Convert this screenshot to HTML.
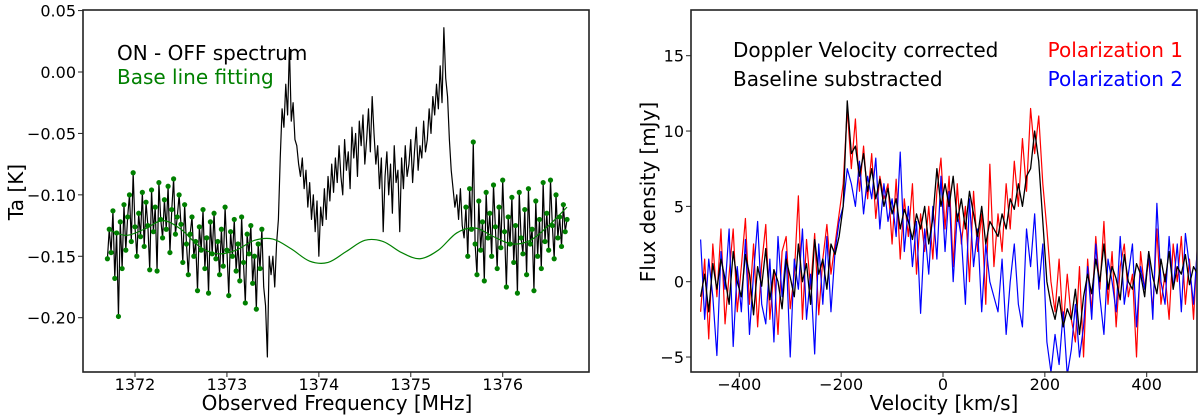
<!DOCTYPE html>
<html><head><meta charset="utf-8"><style>
html,body{margin:0;padding:0;background:#fff;}
svg{display:block;font-family:"DejaVu Sans","Liberation Sans",sans-serif;}
</style></head><body>
<svg id="fig" width="1200" height="420" viewBox="0 0 1200 420" xmlns="http://www.w3.org/2000/svg">
<defs>
<clipPath id="clipL"><rect x="83" y="10" width="506" height="362"/></clipPath>
<clipPath id="clipR"><rect x="691" y="10" width="506" height="362"/></clipPath>
</defs>
<g id="left"></g>
<g id="right"></g>
</svg>
<script>
// ---------- LEFT CHART DATA ----------
const freqStart = 1371.70;
const freqStep = 0.02;
const spectrumMilliK = [
-152,-128,-147,-113,-168,-131,-199,-122,-160,-108,-145,-118,-100,-138,-82,-126,-150,-115,-134,-98,
-142,-106,-125,-161,-96,-130,-110,-162,-90,-120,-135,-104,-128,-93,-147,-112,-87,-132,-118,-100,
-124,-155,-108,-140,-165,-132,-118,-150,-138,-178,-126,-145,-112,-160,-135,-180,-122,-148,-115,-152,
-138,-165,-128,-158,-110,-145,-182,-130,-150,-120,-162,-140,-170,-118,-155,-188,-132,-148,-125,-172,
-150,-193,-140,-160,-128,-175,-190,-232,-150,-165,
-150,-175,-140,-120,-70,
-30,-45,-10,-35,20,-40,-25,-55,-60,-75,-85,-70,-95,-80,-110,-90,-120,-100,-130,-105,
-150,-110,-125,-95,-120,-85,-105,-75,-98,-70,-90,-60,-85,-100,-55,-80,-65,-95,-45,-70,-50,-85,-40,-60,-35,-75,-55,-30,-65,-20,
-50,-75,-60,-95,-70,-130,-85,-65,-100,-75,-115,-60,-90,-80,-130,-70,-95,-60,-85,-75,
-55,-90,-65,-45,-80,-60,-70,-40,-65,-55,-30,-50,-20,-35,-10,-30,5,-25,36,-5,
-20,-55,-80,-95,-110,-100,-120,-95,-125,-135,
-110,-150,-95,-128,-57,-140,-165,-105,-145,-122,-170,-98,-135,-115,-150,-92,-126,-160,-110,-143,
-88,-130,-175,-118,-140,-102,-155,-125,-180,-98,-135,-148,-112,-165,-95,-140,-128,-178,-105,-150,
-120,-160,-90,-138,-115,-145,-88,-125,-152,-100,-135,-118,-142,-108,-130,-120
];
const fitExcludeLo = 1373.40;
const fitExcludeHi = 1375.60;
const baselineFreqs = [1371.7,1371.9,1372.1,1372.3,1372.5,1372.7,1372.9,1373.1,1373.3,1373.5,1373.7,1373.9,1374.1,1374.3,1374.5,1374.7,1374.9,1375.1,1375.3,1375.5,1375.7,1375.9,1376.1,1376.3,1376.5,1376.7];
const baselineK = [-0.128,-0.133,-0.128,-0.121,-0.128,-0.142,-0.148,-0.145,-0.137,-0.136,-0.144,-0.154,-0.155,-0.146,-0.137,-0.138,-0.147,-0.152,-0.145,-0.131,-0.127,-0.134,-0.140,-0.137,-0.125,-0.110];
const leftXTicks = [1372,1373,1374,1375,1376];
const leftYTicks = [0.05,0.00,-0.05,-0.10,-0.15,-0.20];
const leftYTickLabels = ["0.05","0.00","\u22120.05","\u22120.10","\u22120.15","\u22120.20"];

// ---------- RIGHT CHART DATA ----------
const velStart = -476;
const velStep = 8;
const fluxAvg = [
-1.0,0.5,-2.0,1.2,-0.5,1.5,0.2,-1.5,2.0,0.0,-1.0,1.8,0.5,-2.2,1.0,-0.3,2.2,-1.2,0.8,0.0,-1.8,1.5,0.3,-1.0,2.5,0.0,1.2,-1.5,2.8,0.5,1.5,-0.5,2.5,1.8,
3.0,5.0,12.0,8.5,
9.0,7.0,8.5,6.0,7.5,5.5,6.8,5.0,6.2,4.5,
5.5,3.5,4.8,4.0,2.8,4.5,3.5,5.0,2.5,4.2,7.5,5.0,
6.5,5.0,7.0,4.0,5.5,3.5,6.0,4.5,3.0,5.0,2.5,4.0,3.5,
3.0,4.5,3.5,5.5,4.8,6.5,5.0,7.0,7.5,10.0,8.0,4.0,
0.0,-1.5,-2.5,-1.0,-3.0,-1.8,-2.5,-0.5,-3.5,-1.0,
0.5,-0.8,1.5,0.0,2.5,-0.5,1.0,0.2,-1.2,1.8,0.0,-0.5,1.2,0.5,-1.0,2.0,0.3,-0.8,1.5,0.0,2.0,-0.5,1.0,0.5,1.8,-0.2,1.0,0.5
];
const fluxPol1 = [
-2.0,1.5,-3.8,2.5,-1.0,3.5,-2.8,0.5,3.5,-2.0,1.0,4.2,-1.5,2.5,-3.0,1.2,3.8,-2.5,0.8,-3.5,2.0,3.0,-1.8,0.5,5.7,-2.5,2.8,-0.5,3.2,-2.2,1.5,3.8,0.5,2.5,
4.5,6.5,11.5,7.5,
10.8,6.0,9.0,5.5,8.5,4.2,7.0,5.5,6.5,2.5,
6.8,1.5,5.5,3.0,6.5,0.5,4.5,2.0,5.0,1.5,6.0,8.2,
3.5,7.0,1.0,6.5,2.5,5.0,0.0,6.0,2.0,4.5,-1.5,7.8,1.0,
4.5,2.0,6.5,3.5,8.0,5.0,9.5,6.0,11.5,8.5,11.0,6.5,
3.5,0.0,-2.0,1.5,-3.0,0.5,-2.5,-4.0,1.0,-5.0,
1.5,-2.0,3.0,-0.5,4.0,-1.5,2.0,-3.0,1.0,2.5,-1.0,0.5,-5.0,2.0,-0.5,1.5,-2.0,3.5,-1.5,0.5,-2.5,2.5,0.0,3.0,-1.5,1.5,-2.5,2.8
];
const fluxPol2 = [
2.8,-2.5,1.5,-1.0,-4.9,2.0,-0.5,3.5,-4.3,1.0,-2.0,2.8,-3.5,0.5,4.0,-1.5,-2.8,1.5,-4.0,3.0,-1.0,2.0,-5.0,1.5,-0.5,3.5,-2.5,0.5,-4.8,2.5,-1.5,3.0,-2.0,2.0,
4.0,5.0,7.5,6.5,
5.0,8.0,4.5,7.0,5.5,8.2,3.5,6.5,4.0,5.5,
3.0,8.6,2.0,5.0,1.0,4.0,-2.1,3.5,0.5,5.0,1.5,7.0,
2.0,6.0,0.0,4.5,3.0,-1.5,5.5,1.0,3.5,-2.0,2.5,0.0,-1.0,
-2.0,1.5,-3.5,0.0,2.5,-1.5,-3.0,3.5,1.0,4.5,-0.5,2.5,
-4.0,-6.0,-3.5,-5.5,-2.0,-6.2,-4.5,-1.5,-5.0,-3.0,
1.0,-2.5,2.5,-1.0,-3.5,1.5,0.0,-2.0,3.0,-1.5,0.5,2.5,-3.0,1.0,-0.5,2.0,-2.5,5.2,0.0,-1.5,3.0,-0.5,2.5,-2.0,3.2,1.0,-1.5,2.5
];
const rightXTicks = [-400,-200,0,200,400];
const rightXTickLabels = ["\u2212400","\u2212200","0","200","400"];
const rightYTicks = [15,10,5,0,-5];
const rightYTickLabels = ["15","10","5","0","\u22125"];

// ---------- helpers ----------
const NS = "http://www.w3.org/2000/svg";
function mk(parent, tag, attrs, text){
  const e = document.createElementNS(NS, tag);
  for (const k in attrs) e.setAttribute(k, attrs[k]);
  if (text !== undefined) e.textContent = text;
  parent.appendChild(e);
  return e;
}
function linScale(d0,d1,r0,r1){ return v => r0 + (v-d0)/(d1-d0)*(r1-r0); }
function polyPoints(xs, ys, sx, sy){ return xs.map((x,i)=>sx(x).toFixed(2)+","+sy(ys[i]).toFixed(2)).join(" "); }
function smoothPath(xs, ys, sx, sy){
  const P = xs.map((x,i)=>[sx(x), sy(ys[i])]);
  let d = "M"+P[0][0].toFixed(2)+","+P[0][1].toFixed(2);
  for (let i=0;i<P.length-1;i++){
    const p0=P[Math.max(0,i-1)], p1=P[i], p2=P[i+1], p3=P[Math.min(P.length-1,i+2)];
    const c1=[p1[0]+(p2[0]-p0[0])/6, p1[1]+(p2[1]-p0[1])/6];
    const c2=[p2[0]-(p3[0]-p1[0])/6, p2[1]-(p3[1]-p1[1])/6];
    d += " C"+c1[0].toFixed(2)+","+c1[1].toFixed(2)+" "+c2[0].toFixed(2)+","+c2[1].toFixed(2)+" "+p2[0].toFixed(2)+","+p2[1].toFixed(2);
  }
  return d;
}

// ---------- LEFT PANEL ----------
(function(){
  const g = document.getElementById("left");
  const L=83,R=589,T=10,B=372;
  const sx = linScale(1372, 1376, 135, 502.7);
  const sy = linScale(0, -0.20, 72, 317.7);
  const freqs = spectrumMilliK.map((_,i)=>freqStart + i*freqStep);
  const vals = spectrumMilliK.map(v=>v/1000);
  const plot = mk(g,"g",{"clip-path":"url(#clipL)"});
  
  
  const line = mk(plot,"polyline",{points:polyPoints(freqs,vals,sx,sy),fill:"none",stroke:"#000","stroke-width":1.2,"stroke-linejoin":"round"});
  
  
  const dots = mk(plot,"g",{fill:"#008000"});
  
  
  freqs.forEach((f,i)=>{
    if (f < fitExcludeLo || f > fitExcludeHi){
      const c = mk(dots,"circle",{cx:sx(f).toFixed(2),cy:sy(vals[i]).toFixed(2),r:2.6});
      
      
    }
  });
  const bl = mk(plot,"path",{d:smoothPath(baselineFreqs,baselineK,sx,sy),fill:"none",stroke:"#008000","stroke-width":1.2});
  
  
  const frame = mk(g,"rect",{x:L,y:T,width:R-L,height:B-T,fill:"none",stroke:"#222","stroke-width":1.6});
  
  
  leftXTicks.forEach(t=>{
    const x=sx(t);
    const tk = mk(g,"line",{x1:x,x2:x,y1:B,y2:B+5,stroke:"#222","stroke-width":1});
    
    
    const lb = mk(g,"text",{x:x,y:390,"font-size":16,"text-anchor":"middle",fill:"#000"},String(t));
    
    
  });
  leftYTicks.forEach((t,i)=>{
    const y=sy(t);
    const tk = mk(g,"line",{x1:L-5,x2:L,y1:y,y2:y,stroke:"#222","stroke-width":1});
    
    
    const lb = mk(g,"text",{x:L-7,y:y+6,"font-size":16,"text-anchor":"end",fill:"#000"},leftYTickLabels[i]);
    
    
  });
  const xt = mk(g,"text",{x:337,y:410,"font-size":20,"text-anchor":"middle",fill:"#000"},"Observed Frequency [MHz]");
  
  
  const yt = mk(g,"text",{x:0,y:0,"font-size":20,"text-anchor":"middle",fill:"#000",transform:"translate(23,192) rotate(-90)"},"Ta [K]");
  
  
  const l1 = mk(g,"text",{x:117,y:60,"font-size":20,fill:"#000"},"ON - OFF spectrum");
  
  
  const l2 = mk(g,"text",{x:117,y:84,"font-size":20,fill:"#008000"},"Base line fitting");
  
  
})();

// ---------- RIGHT PANEL ----------
(function(){
  const g = document.getElementById("right");
  const L=691,R=1197,T=10,B=372;
  const sx = linScale(-400, 400, 739.3, 1146.7);
  const sy = linScale(0, 15, 281.7, 55.7);
  const vels = fluxAvg.map((_,i)=>velStart + i*velStep);
  const plot = mk(g,"g",{"clip-path":"url(#clipR)"});
  
  
  const red = mk(plot,"polyline",{points:polyPoints(vels,fluxPol1,sx,sy),fill:"none",stroke:"#ff0000","stroke-width":1.2,"stroke-linejoin":"round"});
  
  
  const blue = mk(plot,"polyline",{points:polyPoints(vels,fluxPol2,sx,sy),fill:"none",stroke:"#0000ff","stroke-width":1.2,"stroke-linejoin":"round"});
  
  
  const blk = mk(plot,"polyline",{points:polyPoints(vels,fluxAvg,sx,sy),fill:"none",stroke:"#000","stroke-width":1.3,"stroke-linejoin":"round"});
  
  
  const frame = mk(g,"rect",{x:L,y:T,width:R-L,height:B-T,fill:"none",stroke:"#222","stroke-width":1.6});
  
  
  rightXTicks.forEach((t,i)=>{
    const x=sx(t);
    const tk = mk(g,"line",{x1:x,x2:x,y1:B,y2:B+5,stroke:"#222","stroke-width":1});
    
    
    const lb = mk(g,"text",{x:x,y:390,"font-size":16,"text-anchor":"middle",fill:"#000"},rightXTickLabels[i]);
    
    
  });
  rightYTicks.forEach((t,i)=>{
    const y=sy(t);
    const tk = mk(g,"line",{x1:L-5,x2:L,y1:y,y2:y,stroke:"#222","stroke-width":1});
    
    
    const lb = mk(g,"text",{x:L-7,y:y+6,"font-size":16,"text-anchor":"end",fill:"#000"},rightYTickLabels[i]);
    
    
  });
  const xt = mk(g,"text",{x:944,y:410,"font-size":20,"text-anchor":"middle",fill:"#000"},"Velocity [km/s]");
  
  
  const yt = mk(g,"text",{x:0,y:0,"font-size":20,"text-anchor":"middle",fill:"#000",transform:"translate(655,192) rotate(-90)"},"Flux density [mJy]");
  
  
  const a1 = mk(g,"text",{x:733,y:57,"font-size":20,fill:"#000"},"Doppler Velocity corrected");
  
  
  const a2 = mk(g,"text",{x:733,y:86,"font-size":20,fill:"#000"},"Baseline substracted");
  
  
  const p1 = mk(g,"text",{x:1183,y:57,"font-size":20,"text-anchor":"end",fill:"#ff0000"},"Polarization 1");
  
  
  const p2 = mk(g,"text",{x:1183,y:86,"font-size":20,"text-anchor":"end",fill:"#0000ff"},"Polarization 2");
  
  
})();
</script>
</body></html>
